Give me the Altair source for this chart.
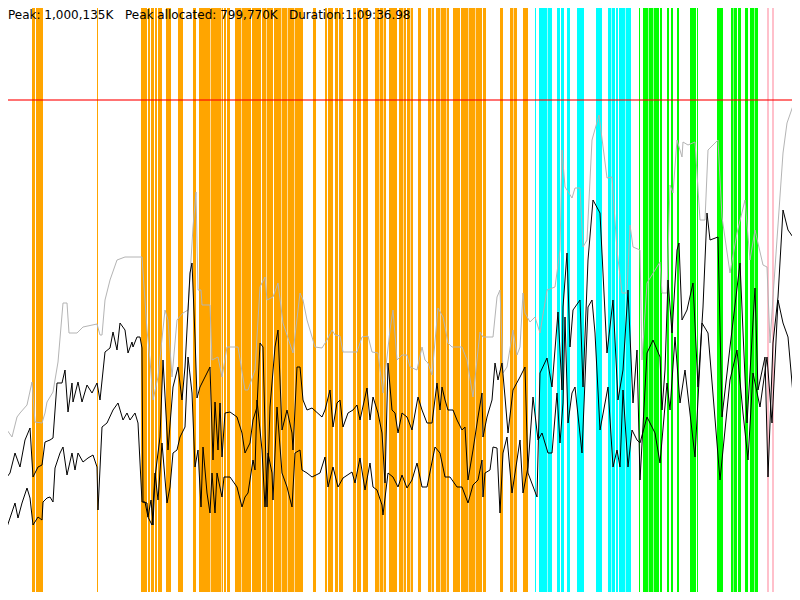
import altair as alt
import pandas as pd

# run summary shown in the header line
PEAK_K = 1000135
PEAK_ALLOC_K = 799770
DURATION = "1:09:36.98"

# phase bands along the run (ticks 0..800), one list per phase colour
orange_bands = [(0, 3), (5, 7), (32, 35), (36, 43), (97, 98), (141, 147), (148, 150),
                (151, 154), (155, 157), (158, 162), (166, 171), (178, 183), (193, 196),
                (199, 210), (210.6, 221), (221.6, 223), (224, 226), (227, 230), (235, 241),
                (241.6, 251), (252, 261), (262, 266), (266.6, 273), (274, 281), (281.6, 287),
                (287.6, 294), (294.6, 303), (313, 316), (325, 327), (328, 333), (335, 338),
                (339, 343), (353, 356), (357, 361), (363, 368), (375, 379), (379.6, 383),
                (383.6, 386), (389, 397), (399, 403), (403.6, 406), (407, 410), (410.6, 413),
                (418, 421), (428, 431), (431.6, 434), (436, 440), (440.6, 446), (446.6, 449),
                (453, 460), (461, 468), (468.6, 475), (475.6, 482), (483, 486), (500, 503),
                (510, 513), (513.6, 517), (523, 528)]
cyan_bands = [(535, 536), (539, 547), (547.6, 552), (557, 560), (561, 564), (567, 570),
              (577, 584), (596, 602), (608, 611), (611.6, 615), (616, 618), (619, 625),
              (625.6, 631)]
green_bands = [(639, 640), (643, 648), (648.6, 653), (653.6, 659), (660, 662), (667, 669),
               (671, 673), (677, 679), (690, 696), (697, 698), (717, 723), (731, 733.5),
               (734, 737), (738, 741), (745, 748), (750, 754), (754.6, 758)]
pink_bands = [(767, 769), (772, 774), (792, 796), (797, 800)]

# heap size (MB), gray trace
heap_t = [0, 5, 7, 12, 17, 20, 27, 32, 35, 42, 45, 47, 53, 58, 63, 67, 69, 77, 83, 97, 100,
          102, 105, 110, 117, 125, 142, 147, 150, 153, 158, 165, 168, 172, 177, 183, 188, 193,
          196, 198, 201, 202, 210, 212, 218, 222, 227, 238, 245, 248, 255, 260, 265, 267, 273,
          278, 283, 293, 300, 303, 307, 315, 322, 327, 332, 335, 340, 343, 357, 362, 368, 372,
          378, 383, 390, 393, 397, 402, 407, 410, 417, 422, 425, 428, 432, 438, 443, 448, 452,
          462, 467, 473, 480, 483, 493, 497, 500, 503, 507, 513, 517, 520, 523, 525, 530, 535,
          540, 547, 555, 560, 562, 565, 567, 572, 575, 580, 583, 587, 592, 599, 607, 612, 617,
          622, 627, 630, 633, 640, 642, 647, 660, 662, 667, 670, 673, 677, 682, 683, 688, 695,
          700, 705, 708, 718, 722, 730, 737, 745, 750, 755, 763, 767, 770, 773, 783, 787, 795,
          798, 800]
heap_mb = [200, 280, 340, 326, 366, 374, 390, 436, 356, 354, 374, 396, 416, 476, 594, 594, 534,
           534, 546, 552, 530, 530, 600, 640, 680, 686, 686, 540, 480, 400, 446, 580, 560, 446,
           560, 574, 580, 746, 816, 620, 620, 590, 590, 480, 486, 446, 506, 506, 420, 420, 460,
           626, 646, 600, 606, 634, 554, 494, 614, 600, 560, 506, 504, 520, 540, 530, 528, 496,
           496, 526, 528, 496, 494, 414, 540, 580, 480, 490, 490, 466, 460, 506, 480, 474, 450,
           584, 566, 514, 506, 506, 480, 406, 536, 526, 526, 606, 620, 454, 466, 540, 490, 506,
           614, 574, 556, 566, 534, 620, 626, 700, 900, 826, 820, 804, 824, 824, 706, 720, 920,
           970, 844, 846, 700, 614, 614, 750, 706, 700, 480, 634, 676, 614, 614, 830, 814, 920,
           886, 916, 910, 916, 760, 760, 900, 920, 766, 654, 734, 800, 680, 740, 670, 666, 514,
           606, 894, 954, 1000, 886, 886]

# used memory (MB), upper black trace
used_t = [0, 7, 10, 15, 20, 25, 30, 33, 38, 42, 45, 50, 53, 57, 62, 65, 68, 72, 73, 78, 82, 87,
          92, 97, 100, 105, 110, 113, 117, 120, 125, 128, 132, 133, 137, 140, 142, 143, 147, 148,
          151, 153, 155, 160, 163, 168, 173, 178, 182, 185, 190, 192, 195, 197, 200, 210, 213,
          215, 218, 220, 222, 225, 230, 237, 242, 245, 250, 253, 257, 260, 263, 267, 270, 275,
          278, 282, 287, 292, 293, 297, 300, 303, 307, 312, 322, 325, 330, 333, 337, 340, 343,
          348, 353, 357, 360, 367, 370, 373, 378, 382, 385, 388, 392, 395, 398, 402, 407, 412,
          418, 422, 427, 432, 437, 440, 442, 445, 448, 453, 457, 462, 465, 468, 473, 478, 482,
          483, 487, 492, 495, 498, 502, 505, 508, 513, 520, 525, 528, 537, 540, 547, 552, 558,
          562, 563, 567, 570, 573, 580, 583, 588, 593, 600, 607, 613, 618, 623, 628, 633, 637,
          640, 647, 653, 660, 662, 665, 668, 672, 675, 677, 679, 682, 687, 693, 698, 703, 707,
          710, 718, 722, 730, 740, 747, 755, 758, 765, 768, 773, 778, 783, 788, 795, 798, 800]
used_mb = [160, 246, 254, 294, 266, 320, 344, 246, 266, 270, 316, 320, 324, 434, 434, 460, 376,
           434, 396, 436, 396, 430, 414, 434, 400, 496, 504, 536, 500, 554, 540, 494, 516, 506,
           526, 526, 504, 196, 194, 166, 200, 150, 246, 326, 480, 300, 426, 466, 400, 466, 654,
           674, 526, 404, 426, 466, 280, 396, 300, 394, 286, 374, 376, 366, 334, 294, 314, 360,
           386, 514, 506, 186, 386, 506, 540, 340, 380, 334, 300, 466, 466, 400, 380, 384, 366,
           380, 420, 346, 394, 400, 346, 374, 380, 390, 360, 424, 360, 406, 374, 334, 234, 474,
           380, 374, 334, 374, 366, 340, 406, 380, 354, 354, 434, 380, 426, 400, 380, 380, 360,
           340, 346, 240, 300, 366, 414, 326, 366, 400, 474, 440, 474, 406, 334, 420, 446, 466,
           254, 206, 454, 484, 426, 576, 420, 586, 694, 506, 580, 600, 426, 680, 800, 774, 494,
           600, 400, 460, 620, 394, 500, 240, 494, 520, 486, 380, 460, 640, 534, 634, 700, 714,
           560, 580, 634, 426, 586, 774, 720, 726, 366, 506, 674, 354, 624, 420, 486, 246, 514,
           606, 780, 740, 720, 520, 520]

# live memory (MB), lower black trace
live_t = [0, 3, 7, 15, 18, 22, 27, 30, 33, 38, 42, 43, 47, 50, 53, 55, 60, 63, 67, 72, 75, 78,
          83, 88, 93, 97, 98, 102, 107, 113, 118, 123, 127, 130, 135, 138, 142, 145, 148, 152,
          155, 158, 162, 167, 170, 173, 177, 180, 185, 188, 192, 195, 198, 201, 203, 207, 210,
          212, 215, 217, 222, 224, 230, 237, 242, 245, 248, 253, 255, 257, 262, 265, 268, 272,
          273, 277, 282, 287, 292, 295, 300, 302, 307, 312, 320, 325, 328, 333, 338, 343, 352,
          355, 360, 365, 370, 373, 377, 382, 383, 388, 393, 398, 402, 407, 412, 417, 422, 427,
          435, 440, 445, 450, 457, 462, 468, 473, 478, 482, 483, 485, 490, 493, 497, 500, 503,
          507, 512, 517, 520, 523, 528, 533, 538, 542, 548, 552, 557, 560, 563, 565, 568, 572,
          575, 582, 588, 592, 595, 600, 608, 613, 617, 620, 623, 628, 632, 637, 640, 647, 655,
          660, 667, 670, 675, 680, 685, 695, 702, 708, 720, 730, 737, 743, 748, 753, 760, 767,
          772, 778, 783, 788, 795, 798, 800]
live_mb = [126, 126, 146, 194, 164, 194, 224, 204, 150, 166, 160, 196, 204, 206, 196, 264, 294,
           306, 250, 294, 260, 294, 276, 284, 290, 266, 180, 346, 354, 380, 394, 360, 374, 360,
           374, 354, 196, 196, 166, 150, 254, 200, 314, 194, 226, 294, 300, 326, 346, 486, 414,
           266, 300, 186, 306, 214, 174, 254, 174, 254, 206, 246, 246, 226, 186, 206, 214, 280,
           260, 400, 300, 186, 294, 254, 200, 386, 254, 226, 186, 294, 300, 260, 254, 246, 254,
           286, 226, 266, 226, 244, 256, 234, 284, 220, 274, 226, 220, 190, 170, 254, 246, 226,
           250, 224, 240, 274, 226, 226, 306, 294, 246, 246, 226, 226, 194, 230, 240, 280, 206,
           254, 260, 306, 304, 174, 294, 326, 214, 280, 320, 214, 266, 406, 320, 334, 294, 294,
           414, 314, 394, 566, 354, 414, 426, 294, 586, 600, 534, 340, 426, 266, 300, 266, 420,
           266, 340, 320, 314, 366, 334, 274, 434, 380, 526, 394, 460, 286, 554, 534, 240, 440,
           500, 374, 280, 454, 386, 486, 354, 600, 554, 526, 366, 486, 486]

# the page has an 8px margin all round, so the visible run is ticks 8..792
W, H = 784, 584
x_scale = alt.Scale(domain=[8, 792], nice=False, zero=False)
y_scale = alt.Scale(domain=[16, 1184], nice=False, zero=False)

rows = []
for name, bands in [("orange", orange_bands), ("cyan", cyan_bands),
                    ("green", green_bands), ("pink", pink_bands)]:
    for s, e in bands:
        rows.append({"start": s, "end": e, "phase": name})
band_df = pd.DataFrame(rows)

bands = alt.Chart(band_df).mark_rect(clip=True).encode(
    x=alt.X("start:Q", scale=x_scale, axis=None),
    x2="end:Q",
    y=alt.value(0),
    y2=alt.value(H),
    color=alt.Color("phase:N", legend=None, scale=alt.Scale(
        domain=["orange", "cyan", "green", "pink"],
        range=["#ffa500", "#00ffff", "#00ff00", "#ffc0cb"])),
)

peak = alt.Chart(pd.DataFrame({"peak": [PEAK_K / 1000]})).mark_rule(
    color="red", opacity=0.55, strokeWidth=2
).encode(y=alt.Y("peak:Q", scale=y_scale, axis=None))

heap_df = pd.DataFrame({"t": heap_t, "mb": heap_mb})
heap = alt.Chart(heap_df).mark_line(color="#b4b4b4", strokeWidth=1, clip=True).encode(
    x=alt.X("t:Q", scale=x_scale, axis=None),
    y=alt.Y("mb:Q", scale=y_scale, axis=None),
)

mem_df = pd.concat([
    pd.DataFrame({"t": used_t, "mb": used_mb, "series": "used"}),
    pd.DataFrame({"t": live_t, "mb": live_mb, "series": "live"}),
])
mem = alt.Chart(mem_df).mark_line(color="black", strokeWidth=1, clip=True).encode(
    x=alt.X("t:Q", scale=x_scale, axis=None),
    y=alt.Y("mb:Q", scale=y_scale, axis=None),
    detail="series:N",
)

header_df = pd.DataFrame({
    "label": [f"Peak: {PEAK_K:,}K", f"Peak allocated: {PEAK_ALLOC_K:,}K",
              f"Duration:{DURATION}"],
    "px": [0, 117, 281],
})
header = alt.Chart(header_df).mark_text(
    align="left", baseline="top", font="DejaVu Sans", fontSize=12, color="black"
).encode(x=alt.X("px:Q", scale=None), y=alt.value(2), text="label:N")

chart = (bands + peak + heap + mem + header).properties(
    width=W, height=H, padding=0, autosize="none", background="white"
).configure_view(stroke=None)

chart.save("out.html", embed_options={"renderer": "svg", "actions": False})
